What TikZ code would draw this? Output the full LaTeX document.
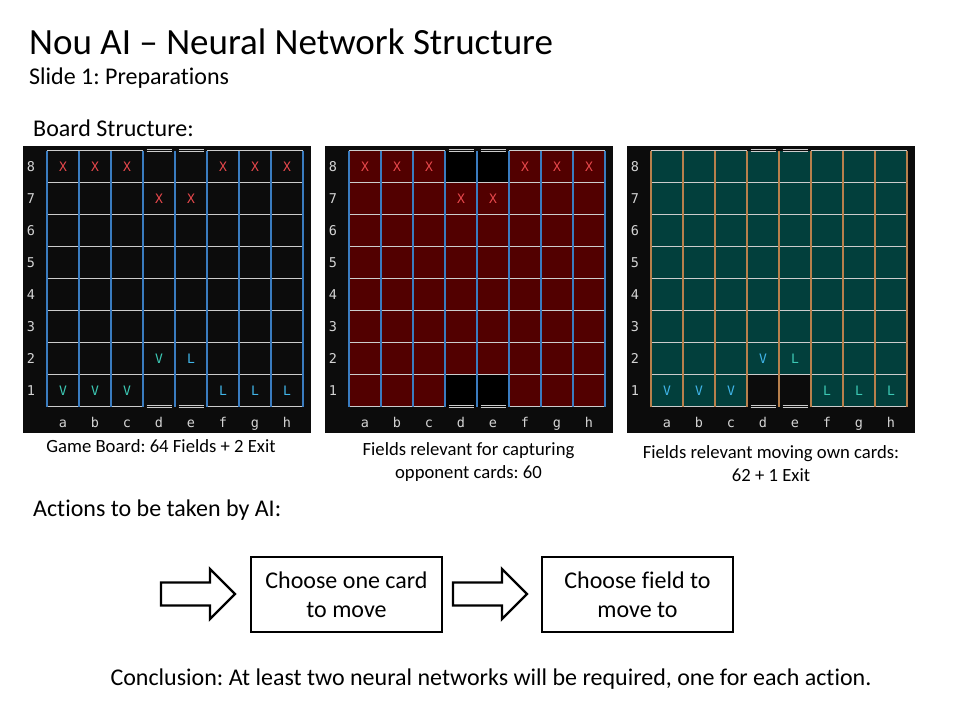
\documentclass[tikz,border=0pt]{standalone}
\usepackage{fontspec}
\setmainfont{Carlito}[Ligatures=NoCommon]
\newfontfamily\boardfont{DejaVu Sans Mono}
\frenchspacing

\definecolor{boardbg}{HTML}{0C0C0C}
\definecolor{capfill}{HTML}{520000}
\definecolor{ownfill}{HTML}{023F3C}
\definecolor{gridgray}{HTML}{CCCCCC}
\definecolor{colblue}{HTML}{3A7CC0}
\definecolor{colorange}{HTML}{B8804C}
\definecolor{labgray}{HTML}{D4D4D4}
\definecolor{xred}{HTML}{E8484C}
\definecolor{vteal}{HTML}{3CC8B4}
\definecolor{lblue}{HTML}{40B4E8}

% cell geometry of a board (local to its scope)
\def\gx{24.5}
\def\gy{4.5}
\def\cellsz{32}

% place a piece letter in column #1 (1..8) and row #2 (1..8)
\newcommand\nouPiece[5]{%
  \node[piece,text=#4] (#5) at ({\gx+(#1-0.5)*\cellsz},{\gy+(8.5-#2)*\cellsz}) {#3};}

% one board: #1 x origin, #2 cell fill, #3 column line colour, #4 prefix, #5 extra content
\newcommand\nouBoard[5]{%
  \begin{scope}[shift={(#1,146)}]
    \fill[boardbg] (0,0) rectangle (288,287);
    \fill[#2] (\gx,\gy) rectangle ++(8*\cellsz,8*\cellsz);
    #5
    \foreach \rr in {1,...,7}
      {\draw[rowline] (\gx,{\gy+\rr*\cellsz}) -- ++(8*\cellsz,0);}
    \foreach \yy in {0,8} {
      \draw[rowline] (\gx,{\gy+\yy*\cellsz}) -- ++(3*\cellsz,0);
      \draw[rowline] ({\gx+5*\cellsz},{\gy+\yy*\cellsz}) -- ++(3*\cellsz,0);
      \foreach \ee in {3,4} {
        \draw[exitline] ({\gx+\ee*\cellsz+3.5},{\gy+\yy*\cellsz-1}) -- ++(\cellsz-7,0);
        \draw[exitline] ({\gx+\ee*\cellsz+3.5},{\gy+\yy*\cellsz+1}) -- ++(\cellsz-7,0);
      }
    }
    \foreach \xx in {0,1,2,3,4,5,6,7,8}
      {\draw[line width=1.6pt,draw=#3] ({\gx+\xx*\cellsz},\gy) -- ({\gx+\xx*\cellsz},{\gy+8*\cellsz});}
    \foreach \rk [count=\rn from 0] in {8,7,6,5,4,3,2,1}
      {\node[boardlab] (#4-rank\rk) at (8.5,{\gy+(\rn+0.5)*\cellsz}) {\rk};}
    \foreach \fl [count=\fn from 0] in {a,b,c,d,e,f,g,h}
      {\node[boardlab,anchor=base] (#4-file\fl) at ({\gx+(\fn+0.5)*\cellsz},281.5) {\fl};}
  \end{scope}}

\begin{document}
\begin{tikzpicture}[x=1pt,y=-1pt,
  rowline/.style={draw=gridgray,line width=1pt},
  exitline/.style={draw=gridgray,line width=0.8pt},
  boardlab/.style={text=labgray,font=\boardfont\fontsize{13.5}{15}\selectfont,inner sep=0pt},
  piece/.style={font=\boardfont\fontsize{13}{15}\selectfont,inner sep=0pt},
  heading/.style={anchor=base west,inner sep=0pt,font=\fontsize{24}{29}\selectfont},
  caption/.style={align=center,inner sep=0pt,font=\fontsize{18.67}{23}\selectfont},
  actionbox/.style={draw=black,line width=2.3pt,minimum width=191pt,minimum height=75pt,
    align=center,font=\fontsize{24}{28.5}\selectfont},
  blockarrow/.style={draw=black,line width=2.3pt,line join=miter},
  pics/fatarrow/.style={code={
    \draw[blockarrow] (0,-11.5) -- (49,-11.5) -- (49,-25) -- (74,0) -- (49,25)
      -- (49,11.5) -- (0,11.5) -- cycle;}}]
\useasboundingbox (0,0) rectangle (960,720);
\fill[white] (0,0) rectangle (960,720);

% titles
\node[anchor=base west,inner sep=0pt,font=\fontsize{37}{44}\selectfont] (title) at (29,54)
  {Nou AI – Neural Network Structure};
\node[heading] (subtitle) at (29,84) {Slide 1: Preparations};
\node[heading] (boardhead) at (33,136) {Board Structure:};

% game board
\nouBoard{22.5}{boardbg}{colblue}{gb}{
  \foreach \pc in {1,2,3,6,7,8} {\nouPiece{\pc}{8}{X}{xred}{gb-x8\pc}}
  \nouPiece{4}{7}{X}{xred}{gb-x74}
  \nouPiece{5}{7}{X}{xred}{gb-x75}
  \nouPiece{4}{2}{V}{vteal}{gb-v24}
  \nouPiece{5}{2}{L}{lblue}{gb-l25}
  \foreach \pc in {1,2,3} {\nouPiece{\pc}{1}{V}{vteal}{gb-v1\pc}}
  \foreach \pc in {6,7,8} {\nouPiece{\pc}{1}{L}{lblue}{gb-l1\pc}}
}

% capture board
\nouBoard{324.5}{capfill}{colblue}{cb}{
  \fill[black] ({\gx+3*\cellsz},\gy) rectangle ++(2*\cellsz,\cellsz);
  \fill[black] ({\gx+3*\cellsz},{\gy+7*\cellsz}) rectangle ++(2*\cellsz,\cellsz);
  \foreach \pc in {1,2,3,6,7,8} {\nouPiece{\pc}{8}{X}{xred}{cb-x8\pc}}
  \nouPiece{4}{7}{X}{xred}{cb-x74}
  \nouPiece{5}{7}{X}{xred}{cb-x75}
}

% own move board
\nouBoard{626.5}{ownfill}{colorange}{ob}{
  \fill[boardbg] ({\gx+3*\cellsz},{\gy+7*\cellsz}) rectangle ++(2*\cellsz,\cellsz);
  \nouPiece{4}{2}{V}{lblue}{ob-v24}
  \nouPiece{5}{2}{L}{vteal}{ob-l25}
  \foreach \pc in {1,2,3} {\nouPiece{\pc}{1}{V}{lblue}{ob-v1\pc}}
  \foreach \pc in {6,7,8} {\nouPiece{\pc}{1}{L}{vteal}{ob-l1\pc}}
}

% captions
\node[caption,anchor=base] (capgame) at (161,452) {Game Board: 64 Fields + 2 Exit};
\node[caption] (capcapture) at (468.5,462) {Fields relevant for capturing\\opponent cards: 60};
\node[caption] (capown) at (771,464) {Fields relevant moving own cards:\\62 + 1 Exit};

% actions
\node[heading] (actionhead) at (33,516) {Actions to be taken by AI:};
\pic (arrowone) at (161,594) {fatarrow};
\node[actionbox] (choosecard) at (346.5,594.5) {Choose one card\\to move};
\pic (arrowtwo) at (453,594) {fatarrow};
\node[actionbox] (choosefield) at (637.5,594.5) {Choose field to\\move to};

\node[anchor=base,inner sep=0pt,font=\fontsize{24}{29}\selectfont] (conclusion) at (491,685)
  {Conclusion: At least two neural networks will be required, one for each action.};
\end{tikzpicture}
\end{document}
